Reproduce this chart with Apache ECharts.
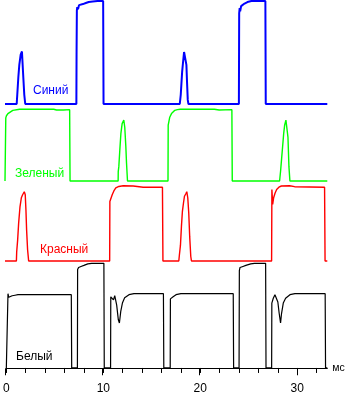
<!DOCTYPE html>
<html>
<head>
<meta charset="utf-8">
<script src="https://cdn.jsdelivr.net/npm/echarts@6/dist/echarts.min.js"></script>
<style>
html,body{margin:0;padding:0;background:#fff;}
#chart{width:351px;height:395px;}
</style>
</head>
<body>
<div id="chart"></div>
<script>
// time in ms, brightness in % of each trace's max
const blue = [[0,0],[1.2,0],[1.26,9],[1.37,26],[1.47,38],[1.61,48],[1.74,51],[1.81,50],[1.88,26],[1.98,9],[2.08,0],
  [7.33,0],[7.35,50],[7.38,91],[7.42,94],[7.5,92],[7.6,96],[7.8,96],[8.0,97],[8.3,98],[8.6,99],[9.0,99.5],[9.5,100],[10.08,100],[10.12,0],
  [17.95,0],[18.05,9],[18.12,20],[18.19,31],[18.29,41],[18.39,50.5],[18.5,49.5],[18.63,38],[18.7,20],[18.77,4],[18.84,0],
  [24.02,0],[24.05,88],[24.1,93],[24.15,90],[24.25,95],[24.4,96.5],[24.6,97.5],[24.9,99],[25.3,100],[26.74,100],[26.78,0],[33.1,0]];

const green = [[0,0],[0.07,0],[0.08,88],[0.15,91],[0.3,94],[0.5,96.5],[0.8,98.5],[1.0,99.5],[1.5,100],[5.0,100],[5.3,99],[6.0,99],[6.64,99.5],[6.68,0],
  [7.1,0],[7.15,2],[7.2,0],[8.3,0],[8.35,2],[8.4,0],[9.4,0],[9.45,2],[9.5,0],[10.3,0],[10.35,2],[10.4,0],
  [11.62,0],[11.63,13],[11.69,20],[11.79,43],[11.9,66],[12.03,80],[12.2,85],[12.3,75],[12.41,48],[12.48,25],[12.58,0],
  [13.2,0],[13.25,2],[13.3,0],[14.6,0],[14.65,2],[14.7,0],[15.8,0],[15.85,2],[15.9,0],
  [16.74,0],[16.76,78],[16.92,89],[17.1,94],[17.26,96.3],[17.44,98.6],[17.7,99.5],[18.0,100],[21.5,100],[22,99],[23.3,99.5],[23.34,0],
  [24.3,0],[24.35,2],[24.4,0],[25.6,0],[25.65,2],[25.7,0],[26.9,0],[26.95,2],[27.0,0],
  [28.2,0],[28.31,15],[28.41,31.5],[28.51,47.7],[28.62,66],[28.72,78],[28.85,85],[28.96,83],[29.06,61],[29.16,20],[29.26,0],
  [30.2,0],[30.25,2],[30.3,0],[31.5,0],[31.55,2],[31.6,0],[32.4,0],[32.45,2],[32.5,0],[33.1,0]];

const red = [[0,0],[1.17,0],[1.2,12],[1.3,28],[1.4,50],[1.54,72],[1.68,84],[1.81,88],[1.98,92],[2.08,88],[2.15,68],[2.22,41],[2.32,15],[2.43,0],
  [10.75,0],[10.77,79],[10.87,81],[11.01,88],[11.18,93],[11.38,97],[11.69,99],[12.14,100],[13.16,99.6],[14.19,98],[16.17,98],[16.22,0],
  [17.85,0],[17.91,8],[18.02,21],[18.12,46],[18.22,66],[18.33,77],[18.43,86],[18.56,89],[18.67,92],[18.77,84],[18.87,64],[18.97,32],[19.08,6],[19.15,0],
  [27.38,0],[27.41,95],[27.49,75],[27.59,84],[27.73,90],[27.9,95],[28.13,98],[28.38,99.6],[29.23,100],[29.74,98.7],[32.82,98],[32.87,0],[33.1,0]];

const white = [[0,0],[0.15,0],[0.17,71],[0.25,67.5],[0.4,68],[0.6,69],[0.9,69.5],[1.2,70],[6.7,70],[6.74,0],
  [7.33,0],[7.35,94],[7.45,96],[7.55,95],[7.7,97],[8.0,98],[8.4,99.5],[8.8,100],[10.06,100],[10.1,0],
  [10.75,0],[10.77,68],[10.85,69],[11.05,65],[11.18,69],[11.38,60],[11.55,46],[11.66,43],[11.8,54],[11.97,62],[12.2,67],[12.65,70],[13.16,71],[16.2,71],[16.24,0],
  [16.9,0],[16.92,66],[17.0,65],[17.2,68],[17.5,70],[18.0,71],[23.4,71],[23.44,0],
  [24.0,0],[24.03,93],[24.1,96],[24.2,95],[24.4,97],[24.7,98],[25.2,99.5],[25.6,100],[26.74,100],[26.78,0],
  [27.36,0],[27.38,62],[27.53,66.6],[27.7,70],[27.87,70],[28.0,63],[28.14,52],[28.28,43],[28.38,52],[28.56,62],[28.8,66.6],[29.25,70],[29.76,71],[32.88,71],[32.92,0],[33.1,0]];

const seriesNames = ['Синий','Зеленый','Красный','Белый'];
const seriesColors = ['#0000ff','#00ff00','#ff0000','#000000'];
const majorTicks = [0,10,20,30];
const minorTicks = [0,2,4,6,8,10,12,14,16,18,20,22,24,26,28,30,32];
const xMin = 0, xMax = 33.1;
const axisName = 'мс';

const font = '"Liberation Sans", Arial, sans-serif';
const grids = [
  {left:5, width:322.3, top:1, height:103},
  {left:5, width:322.3, top:109.3, height:71.7},
  {left:5, width:322.3, top:185.7, height:75.3},
  {left:5, width:322.3, top:263.3, height:106},
  {left:5, width:322.3, top:263.3, height:106}
];
const xAxes = grids.map((g,i)=>({
  type:'value', gridIndex:i, min:xMin, max:xMax, show:false, splitLine:{show:false}
}));
xAxes[3] = {
  type:'value', gridIndex:3, min:xMin, max:xMax, position:'bottom',
  splitLine:{show:false},
  axisLine:{show:true, lineStyle:{color:'#000', width:1}},
  axisTick:{show:true, customValues:minorTicks, length:5, lineStyle:{color:'#000', width:1}},
  axisLabel:{show:true, customValues:majorTicks, margin:14, color:'#000', fontSize:12, fontFamily:font},
  name:axisName, nameLocation:'end', nameGap:5,
  nameTextStyle:{color:'#000', fontSize:10.5, fontFamily:font}
};
xAxes[4] = {
  type:'value', gridIndex:4, min:xMin, max:xMax, position:'bottom',
  splitLine:{show:false},
  axisLine:{show:false},
  axisTick:{show:true, customValues:majorTicks, length:7, lineStyle:{color:'#000', width:1}},
  axisLabel:{show:false}
};
const yAxes = grids.map((g,i)=>({
  type:'value', gridIndex:i, min:(i>=3?-1:0), max:100, show:false, splitLine:{show:false}
}));
const datas = [blue, green, red, white];
const widths = [2, 1.4, 1.4, 1.2];
const series = datas.map((d,i)=>({
  type:'line', name:seriesNames[i], xAxisIndex:i, yAxisIndex:i, data:d,
  showSymbol:false, symbol:'none', clip:false,
  lineStyle:{color:seriesColors[i], width:widths[i]}, z:10-i
}));
const labelPos = [[33,91],[15,173.3],[40,249.7],[16,356.7]];
const graphic = labelPos.map((p,i)=>({
  type:'text', x:p[0], y:p[1], z:100,
  style:{text:seriesNames[i], fill:seriesColors[i], font:'12px '+font, align:'left', verticalAlign:'middle'}
}));

const chart = echarts.init(document.getElementById('chart'), null, {renderer:'canvas'});
chart.setOption({
  animation:false,
  backgroundColor:'#fff',
  grid:grids, xAxis:xAxes, yAxis:yAxes, series:series, graphic:graphic
});
</script>
</body>
</html>
